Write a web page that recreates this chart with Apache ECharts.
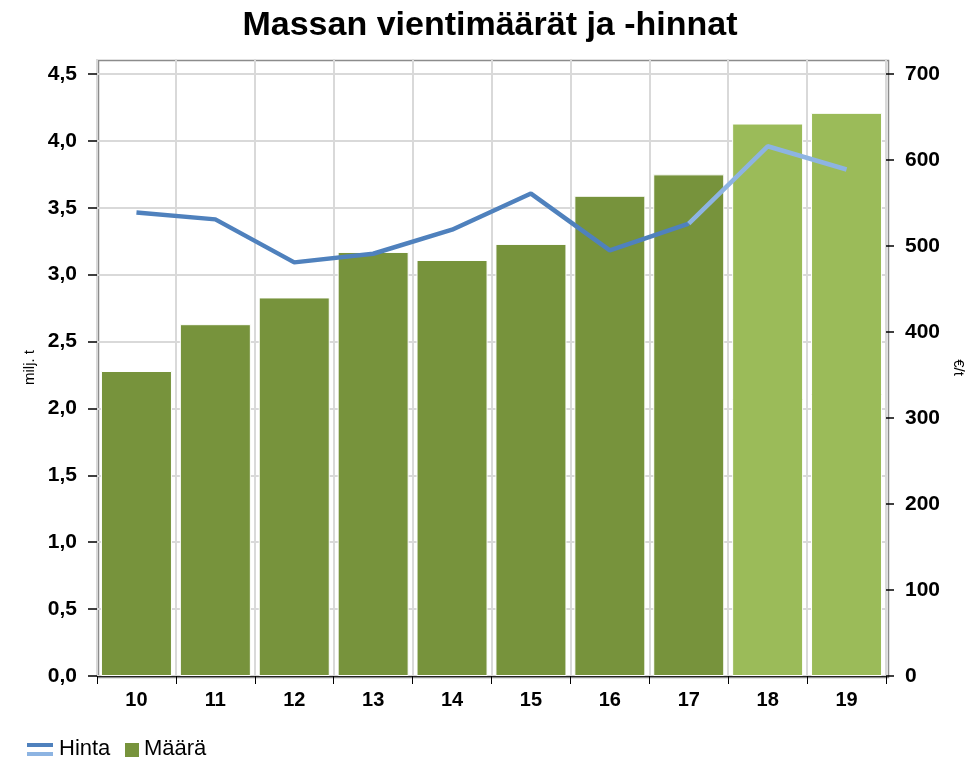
<!DOCTYPE html>
<html><head><meta charset="utf-8">
<script src="https://cdn.jsdelivr.net/npm/echarts@6/dist/echarts.min.js"></script>
<style>html,body{margin:0;padding:0;background:#fff}#c{width:980px;height:760px}</style>
</head><body><div id="c"></div>
<script>
const categories = ['10','11','12','13','14','15','16','17','18','19'];
const maara = [2.28, 2.63, 2.83, 3.17, 3.11, 3.23, 3.59, 3.75, 4.13, 4.21];
const hinta = [539, 531, 481, 491, 519, 561, 495, 526, 616, 589];
const forecastFrom = 8; // index where light (forecast) colours start
const leftTickValues = [0, 0.5, 1, 1.5, 2, 2.5, 3, 3.5, 4, 4.5];
const rightTickValues = [0, 100, 200, 300, 400, 500, 600, 700];

const dark = '#77933C', light = '#9BBB59';
const lineDark = '#4F81BD', lineLight = '#8DB4E2';
const font = 'Liberation Sans, Arial, sans-serif';

// plot frame extends a little above the top tick (as in the reference)
const headroom = 15 / 600; // fraction of the tick range
const leftMax = 4.5 * (1 + headroom);
const rightMax = 700 * (1 + headroom);

const barData = maara.map((v, i) => ({value: v, itemStyle: {color: i >= forecastFrom ? light : dark}}));
const lineA = hinta.map((v, i) => i <= forecastFrom - 1 ? v : null);
const lineB = hinta.map((v, i) => i >= forecastFrom - 1 ? v : null);

const gridLeft = 97, gridRight = 94, gridTop = 59, gridBottom = 84;

const chart = echarts.init(document.getElementById('c'));
chart.setOption({
  animation: false,
  title: {text: 'Massan vientimäärät ja -hinnat', left: 'center', top: 4,
    textStyle: {fontFamily: font, fontWeight: 'bold', fontSize: 34, color: '#000'}},
  grid: {left: gridLeft, right: gridRight, top: gridTop, bottom: gridBottom},
  xAxis: {type: 'category', data: categories, boundaryGap: true,
    axisLine: {lineStyle: {color: '#222', width: 1}},
    axisTick: {show: true, alignWithLabel: false, length: 8, lineStyle: {color: '#000'}},
    axisLabel: {fontFamily: font, fontWeight: 'bold', fontSize: 20, color: '#000', margin: 14},
    splitLine: {show: true, interval: 0, lineStyle: {color: '#d9d9d9', width: 2}}},
  yAxis: [
    {type: 'value', min: 0, max: leftMax, interval: 0.5, position: 'left',
      name: 'milj. t', nameLocation: 'middle', nameGap: 59, nameRotate: 90,
      nameTextStyle: {fontFamily: font, fontSize: 15, color: '#000'},
      axisLine: {show: false},
      axisTick: {show: true, length: 9, customValues: leftTickValues, lineStyle: {color: '#000', width: 1.5}},
      axisLabel: {fontFamily: font, fontWeight: 'bold', fontSize: 21, color: '#000', margin: 20,
        customValues: leftTickValues,
        formatter: v => v.toFixed(1).replace('.', ',')},
      splitLine: {show: true, lineStyle: {color: '#d9d9d9', width: 2}}},
    {type: 'value', min: 0, max: rightMax, interval: 100, position: 'right',
      name: '€/t', nameLocation: 'middle', nameGap: 64, nameRotate: -90,
      nameTextStyle: {fontFamily: font, fontSize: 15, color: '#000'},
      axisLine: {show: false},
      axisTick: {show: true, length: 8, customValues: rightTickValues, lineStyle: {color: '#000', width: 1.5}},
      axisLabel: {fontFamily: font, fontWeight: 'bold', fontSize: 21, color: '#000', margin: 19,
        customValues: rightTickValues},
      splitLine: {show: false}}
  ],
  series: [
    {name: 'Määrä', type: 'bar', data: barData, barCategoryGap: '10%', yAxisIndex: 0,
      itemStyle: {borderColor: '#fff', borderWidth: 1}},
    {name: 'Hinta', type: 'line', data: lineA, yAxisIndex: 1, symbol: 'none', connectNulls: false,
      lineStyle: {color: lineDark, width: 4.5}, itemStyle: {color: lineDark}, z: 5},
    {name: 'Hinta2', type: 'line', data: lineB, yAxisIndex: 1, symbol: 'none', connectNulls: false,
      lineStyle: {color: lineLight, width: 4.5}, itemStyle: {color: lineLight}, z: 5}
  ],
  graphic: [
    {type: 'rect', left: gridLeft - 1, top: gridTop - 1, z: 0,
      shape: {width: 980 - gridLeft - gridRight + 1, height: 760 - gridTop - gridBottom},
      style: {fill: null, stroke: '#8c8c8c', lineWidth: 1.5}},
    {type: 'rect', left: 27, top: 743, shape: {width: 26, height: 4}, style: {fill: lineDark}},
    {type: 'rect', left: 27, top: 752, shape: {width: 26, height: 4}, style: {fill: lineLight}},
    {type: 'text', left: 59, top: 738, style: {text: 'Hinta', font: '22px ' + font, fill: '#000'}},
    {type: 'rect', left: 125, top: 743, shape: {width: 14, height: 14}, style: {fill: dark}},
    {type: 'text', left: 144, top: 738, style: {text: 'Määrä', font: '22px ' + font, fill: '#000'}}
  ]
});
</script></body></html>
